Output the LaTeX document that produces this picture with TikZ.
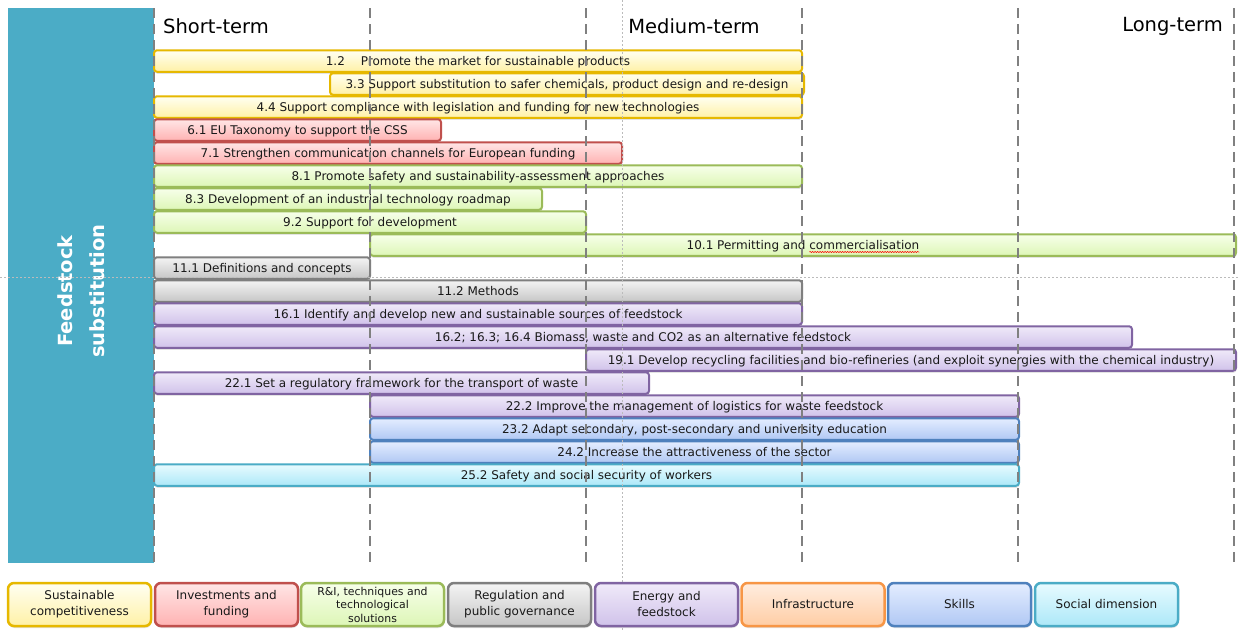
\documentclass[tikz,border=0pt]{standalone}
\usepackage{fontspec}
\setmainfont{DejaVu Sans}
\usetikzlibrary{shadows,decorations.pathmorphing}
\definecolor{panel}{HTML}{4BACC6}
\definecolor{yE}{HTML}{E6B800}\definecolor{yT}{HTML}{FFFFF2}\definecolor{yB}{HTML}{FFF1A6}
\definecolor{rE}{HTML}{C0504D}\definecolor{rT}{HTML}{FFE6E6}\definecolor{rB}{HTML}{FFB2B2}
\definecolor{gE}{HTML}{9BBB59}\definecolor{gT}{HTML}{F7FFEA}\definecolor{gB}{HTML}{DDF6B6}
\definecolor{kE}{HTML}{7F7F7F}\definecolor{kT}{HTML}{F4F4F4}\definecolor{kB}{HTML}{C6C6C6}
\definecolor{pE}{HTML}{8064A2}\definecolor{pT}{HTML}{F0EAF9}\definecolor{pB}{HTML}{D0C2EA}
\definecolor{oE}{HTML}{F79646}\definecolor{oT}{HTML}{FFEDE0}\definecolor{oB}{HTML}{FFCDA4}
\definecolor{bE}{HTML}{4F81BD}\definecolor{bT}{HTML}{E4EDFF}\definecolor{bB}{HTML}{B0C8F4}
\definecolor{cE}{HTML}{4BACC6}\definecolor{cT}{HTML}{E8FBFF}\definecolor{cB}{HTML}{ACE8F8}
\definecolor{guide}{HTML}{BBBBBB}
\definecolor{sep}{HTML}{808080}
\newcommand\barfont{\fontsize{12}{14}\selectfont}
\newlength\rninew
\newlength\sqw
\tikzset{
  gbar/.style={draw, rounded corners=3pt, line width=2pt, minimum height=21.5pt, inner sep=0pt,
    text height=9pt, text depth=1pt,
    font=\barfont, text=black!90,
    drop shadow={opacity=0.22, shadow xshift=0.5pt, shadow yshift=-2pt}},
  ybar/.style={gbar, draw=yE, top color=yT, bottom color=yB},
  rbar/.style={gbar, draw=rE, top color=rT, bottom color=rB},
  grbar/.style={gbar, draw=gE, top color=gT, bottom color=gB},
  kbar/.style={gbar, draw=kE, top color=kT, bottom color=kB},
  pbar/.style={gbar, draw=pE, top color=pT, bottom color=pB},
  bbar/.style={gbar, draw=bE, top color=bT, bottom color=bB},
  cbar/.style={gbar, draw=cE, top color=cT, bottom color=cB},
  lgd/.style={draw, rounded corners=6pt, line width=2.5pt, minimum width=143pt, minimum height=43pt,
    inner sep=0pt, align=center, font=\fontsize{12}{16}\selectfont, text=black!90,
    drop shadow={opacity=0.22, shadow xshift=0.5pt, shadow yshift=-2pt}},
  hdr/.style={font=\fontsize{19.5}{24}\selectfont, text=black, inner sep=0pt},
  sepline/.style={draw=sep, line width=2.8pt, dash pattern=on 10pt off 6pt},
  guideline/.style={draw=guide, line width=0.8pt, dash pattern=on 2pt off 2pt}
}
\begin{document}
\settowidth{\rninew}{\barfont 10.1 Permitting and commercialisation}%
\settowidth{\sqw}{\barfont commercialisation}%
\begin{tikzpicture}[x=1pt,y=-1pt]
\useasboundingbox (0,0) rectangle (1240,630);
\fill[white] (0,0) rectangle (1240,630);
% side panel
\node[fill=panel, minimum width=146pt, minimum height=555pt, inner sep=0pt] (panel) at (81,285.5) {};
\node[rotate=90, align=center, text=white, font=\bfseries\fontsize{19.5}{32}\selectfont] (ptitle) at (81,291) {Feedstock\\substitution};
% headers
\node[hdr, anchor=west] (st) at (163,26) {Short-term};
\node[hdr] (mt) at (694,26) {Medium-term};
\node[hdr, anchor=east] (lt) at (1223,26) {Long-term};
% bars
\node[ybar, minimum width=648pt] (r1) at (478,61) {1.2\hspace{16pt}Promote the market for sustainable products};
\node[ybar, minimum width=474pt] (r2) at (567,84) {3.3 Support substitution to safer chemicals, product design and re-design};
\node[ybar, minimum width=648pt] (r3) at (478,107) {4.4 Support compliance with legislation and funding for new technologies};
\node[rbar, minimum width=287pt] (r4) at (297.5,130) {6.1 EU Taxonomy to support the CSS};
\node[rbar, minimum width=468pt] (r5) at (388,153) {7.1 Strengthen communication channels for European funding};
\node[grbar, minimum width=648pt] (r6) at (478,176) {8.1 Promote safety and sustainability-assessment approaches};
\node[grbar, minimum width=388pt] (r7) at (348,199) {8.3 Development of an industrial technology roadmap};
\node[grbar, minimum width=432pt] (r8) at (370,222) {9.2 Support for development};
\node[grbar, minimum width=866pt] (r9) at (803,245) {10.1 Permitting and commercialisation};
\node[kbar, minimum width=216pt] (r10) at (262,268) {11.1 Definitions and concepts};
\node[kbar, minimum width=648pt] (r11) at (478,291) {11.2 Methods};
\node[pbar, minimum width=648pt] (r12) at (478,314) {16.1 Identify and develop new and sustainable sources of feedstock};
\node[pbar, minimum width=978pt] (r13) at (643,337) {16.2; 16.3; 16.4 Biomass, waste and CO2 as an alternative feedstock};
\node[pbar, minimum width=650pt] (r14) at (911,360) {19.1 Develop recycling facilities and bio-refineries (and exploit synergies with the chemical industry)};
\node[pbar, minimum width=495pt] (r15) at (401.5,383) {22.1 Set a regulatory framework for the transport of waste};
\node[pbar, minimum width=649pt] (r16) at (694.5,406) {22.2 Improve the management of logistics for waste feedstock};
\node[bbar, minimum width=649pt] (r17) at (694.5,429) {23.2 Adapt secondary, post-secondary and university education};
\node[bbar, minimum width=649pt] (r18) at (694.5,452) {24.2 Increase the attractiveness of the sector};
\node[cbar, minimum width=865pt] (r19) at (586.5,475) {25.2 Safety and social security of workers};
% spell-check mark under "commercialisation"
\coordinate (sq2) at ([xshift=0.5\rninew, yshift=-7pt]r9.center);
\coordinate (sq1) at ([xshift=0.5\rninew-\sqw, yshift=-7pt]r9.center);
\draw[red, line width=0.5pt, decorate, decoration={snake, amplitude=0.6pt, segment length=2.5pt}] (sq1) -- (sq2);
% separators
\foreach \x in {154,370,586,802,1018,1234}{
  \draw[sepline] (\x,8) -- (\x,566);
}
% guides
\draw[guideline] (622,0) -- (622,630);
\draw[guideline] (0,277) -- (1240,277);
% legend
\node[lgd, draw=yE, top color=yT, bottom color=yB] (l1) at (79.5,604.5) {Sustainable\\competitiveness};
\node[lgd, draw=rE, top color=rT, bottom color=rB] (l2) at (226.5,604.5) {Investments and\\funding};
\node[lgd, draw=gE, top color=gT, bottom color=gB, font=\fontsize{10.9}{13.5}\selectfont] (l3) at (372.5,604.5) {R\&I, techniques and\\technological\\solutions};
\node[lgd, draw=kE, top color=kT, bottom color=kB] (l4) at (519.5,604.5) {Regulation and\\public governance};
\node[lgd, draw=pE, top color=pT, bottom color=pB] (l5) at (666.5,604.5) {Energy and\\feedstock};
\node[lgd, draw=oE, top color=oT, bottom color=oB] (l6) at (813,604.5) {Infrastructure};
\node[lgd, draw=bE, top color=bT, bottom color=bB] (l7) at (959.5,604.5) {Skills};
\node[lgd, draw=cE, top color=cT, bottom color=cB] (l8) at (1106.5,604.5) {Social dimension};
\end{tikzpicture}
\end{document}
